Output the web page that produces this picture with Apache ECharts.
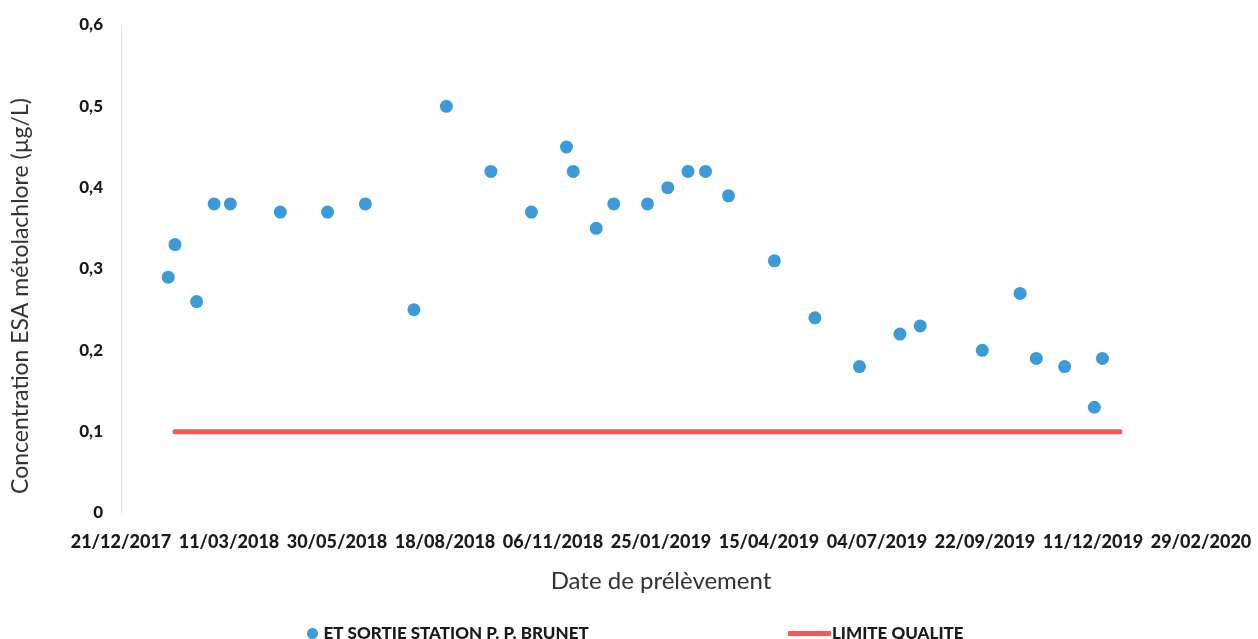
<!DOCTYPE html>
<html>
<head>
<meta charset="utf-8">
<script src="https://cdn.jsdelivr.net/npm/echarts@6/dist/echarts.min.js"></script>
<style>html,body{margin:0;padding:0;background:#fff;}#c{width:1258px;height:639px;}</style>
</head>
<body>
<div id="c"></div>
<script>
const startDate = '21/12/2017';
const sampleDates = ['25/01/2018','30/01/2018','15/02/2018','28/02/2018','12/03/2018','18/04/2018','23/05/2018','20/06/2018','26/07/2018','19/08/2018','21/09/2018','21/10/2018','16/11/2018','21/11/2018','08/12/2018','21/12/2018','15/01/2019','30/01/2019','14/02/2019','27/02/2019','16/03/2019','19/04/2019','19/05/2019','21/06/2019','21/07/2019','05/08/2019','20/09/2019','18/10/2019','30/10/2019','20/11/2019','12/12/2019','18/12/2019'];
const sampleValues = [0.29,0.33,0.26,0.38,0.38,0.37,0.37,0.38,0.25,0.50,0.42,0.37,0.45,0.42,0.35,0.38,0.38,0.40,0.42,0.42,0.39,0.31,0.24,0.18,0.22,0.23,0.20,0.27,0.19,0.18,0.13,0.19];
const limitDates = ['30/01/2018','31/12/2019'];
const limitValues = [0.1,0.1];
const xMaxDays = 800, xIntervalDays = 80;
const yTicks = [0,0.1,0.2,0.3,0.4,0.5,0.6];
const seriesNames = ['ET SORTIE STATION P. P. BRUNET','LIMITE QUALITE'];

const DAY = 86400000;
function parse(s){const p=s.split('/');return Date.UTC(+p[2],+p[1]-1,+p[0]);}
const t0 = parse(startDate);
function toDays(s){return Math.round((parse(s)-t0)/DAY);}
function fmt(d){const dt=new Date(t0+d*DAY);const dd=String(dt.getUTCDate()).padStart(2,'0');const mm=String(dt.getUTCMonth()+1).padStart(2,'0');return dd+'/'+mm+'/'+dt.getUTCFullYear();}

const font = 'Lato, "Open Sans", sans-serif';
const chart = echarts.init(document.getElementById('c'));
chart.setOption({
  animation:false,
  backgroundColor:'#fff',
  grid:{left:121,right:57,top:25,bottom:126,containLabel:false},
  xAxis:{type:'value',min:0,max:xMaxDays,interval:xIntervalDays,
    name:'Date de prélèvement',nameLocation:'middle',nameGap:56,
    nameTextStyle:{fontFamily:font,fontSize:24,color:'#333'},
    axisLine:{show:false},axisTick:{show:false},splitLine:{show:false},
    axisLabel:{fontFamily:font,fontWeight:900,fontSize:18,color:'#1a1a1a',margin:20,formatter:v=>fmt(v)}},
  yAxis:{type:'value',min:yTicks[0],max:yTicks[yTicks.length-1],interval:0.1,
    name:'Concentration ESA métolachlore (µg/L)',nameLocation:'middle',nameGap:89,
    nameTextStyle:{fontFamily:font,fontSize:23,color:'#333',padding:[0,54,0,0]},
    axisLine:{show:true,lineStyle:{color:'#e0e0e0',width:1}},axisTick:{show:false},splitLine:{show:false},
    axisLabel:{fontFamily:font,fontWeight:900,fontSize:17,color:'#1a1a1a',margin:18,formatter:v=>String(+v.toFixed(1)).replace('.',',')}},
  legend:[
    {data:[seriesNames[0]],left:302,top:620,itemWidth:12,itemHeight:11,itemGap:10,
     textStyle:{fontFamily:font,fontWeight:900,fontSize:17,color:'#1a1a1a'}},
    {data:[{name:seriesNames[1],icon:'rect'}],left:783,top:620,itemWidth:43,itemHeight:5,itemGap:0,
     textStyle:{fontFamily:font,fontWeight:900,fontSize:17,color:'#1a1a1a',padding:[0,0,0,-4]}}
  ],
  series:[
    {name:seriesNames[0],type:'scatter',symbolSize:13,
     itemStyle:{color:'#3b9ad8',opacity:1},
     data:sampleDates.map((d,i)=>[toDays(d),sampleValues[i]])},
    {name:seriesNames[1],type:'line',symbol:'none',
     lineStyle:{color:'#f25a5a',width:5,cap:'round'},itemStyle:{color:'#f25a5a'},
     data:limitDates.map((d,i)=>[toDays(d),limitValues[i]])}
  ]
});
</script>
</body>
</html>
